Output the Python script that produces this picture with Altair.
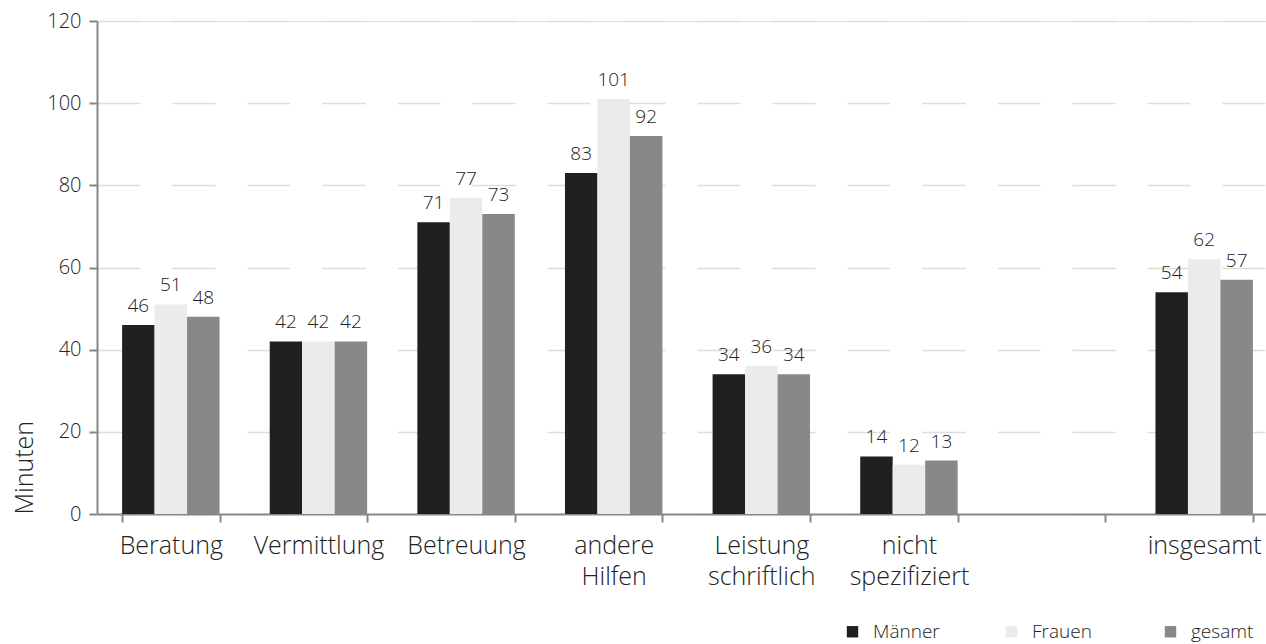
import altair as alt
import pandas as pd

categories = ["Beratung", "Vermittlung", "Betreuung", "andere|Hilfen",
              "Leistung|schriftlich", "nicht|spezifiziert", "leer", "insgesamt"]
data_categories = ["Beratung", "Vermittlung", "Betreuung", "andere|Hilfen",
                   "Leistung|schriftlich", "nicht|spezifiziert", "insgesamt"]
groups = ["Männer", "Frauen", "gesamt"]
maenner = [46, 42, 71, 83, 34, 14, 54]
frauen = [51, 42, 77, 101, 36, 12, 62]
gesamt = [48, 42, 73, 92, 34, 13, 57]
colors = ["#202020", "#ebebeb", "#888888"]

rows = []
for i, c in enumerate(data_categories):
    for g, vals in zip(groups, [maenner, frauen, gesamt]):
        rows.append({"Kategorie": c, "Gruppe": g, "Minuten": vals[i]})
df = pd.DataFrame(rows)

FONT = "Open Sans"
W = 300
TXT = "#222222"

x_enc = alt.X(
    "Kategorie:N",
    sort=categories,
    scale=alt.Scale(domain=categories, paddingInner=0.34, paddingOuter=0.17, range=[0, 1181]),
    axis=alt.Axis(
        title=None,
        labelAngle=0,
        labelExpr="datum.label == 'leer' ? '' : split(datum.label, '|')",
        labelFontSize=25,
        labelFont=FONT,
        labelFontWeight=W,
        labelColor=TXT,
        labelPadding=11,
        labelLineHeight=31,
        tickBand="extent",
        tickSize=8,
        tickColor="#888888",
        domainColor="#888888",
        domainWidth=2,
        tickWidth=2,
        grid=False,
    ),
)
xoff = alt.XOffset("Gruppe:N", sort=groups, scale=alt.Scale(domain=groups, paddingInner=0, paddingOuter=0))
y_enc = alt.Y(
    "Minuten:Q",
    scale=alt.Scale(domain=[0, 120]),
    axis=alt.Axis(
        title="Minuten",
        titleFont=FONT,
        titleFontSize=25,
        titleFontWeight=W,
        titleColor=TXT,
        titleAnchor="start",
        titlePadding=9,
        values=[0, 20, 40, 60, 80, 100, 120],
        labelFontSize=20,
        labelFont=FONT,
        labelFontWeight=W,
        labelColor=TXT,
        labelPadding=8,
        tickSize=8,
        tickColor="#888888",
        tickWidth=2,
        domainColor="#888888",
        domainWidth=2,
        grid=True,
        gridColor="#dddddd",
        gridWidth=1.5,
        gridDash=[43, 32],
    ),
)

bars = alt.Chart(df).mark_bar(stroke=None).encode(
    x=x_enc,
    xOffset=xoff,
    y=y_enc,
    color=alt.Color(
        "Gruppe:N",
        sort=groups,
        scale=alt.Scale(domain=groups, range=colors),
        legend=alt.Legend(
            title=None,
            orient="none",
            legendX=746,
            legendY=601,
            direction="horizontal",
            columns=3,
            gridAlign="all",
            symbolType="square",
            symbolSize=130,
            symbolStrokeWidth=0,
            labelFont=FONT,
            labelFontWeight=W,
            labelFontSize=19,
            labelColor=TXT,
            labelOffset=11,
            columnPadding=62,
        ),
    ),
)

labels = alt.Chart(df).mark_text(
    baseline="bottom", dy=-9, fontSize=19, font=FONT, fontWeight=W, color=TXT
).encode(
    x=alt.X("Kategorie:N", sort=categories),
    xOffset=alt.XOffset("Gruppe:N", sort=groups),
    y=alt.Y("Minuten:Q"),
    text=alt.Text("Minuten:Q"),
)

chart = (
    alt.layer(bars, labels)
    .properties(
        width=1169,
        height=493,
        autosize=alt.AutoSizeParams(type="none"),
        padding={"left": 97, "top": 21, "right": 0, "bottom": 130},
    )
    .configure_view(stroke=None)
    .configure(background="white")
)

chart.save("out.html", embed_options={"renderer": "svg", "actions": False})
